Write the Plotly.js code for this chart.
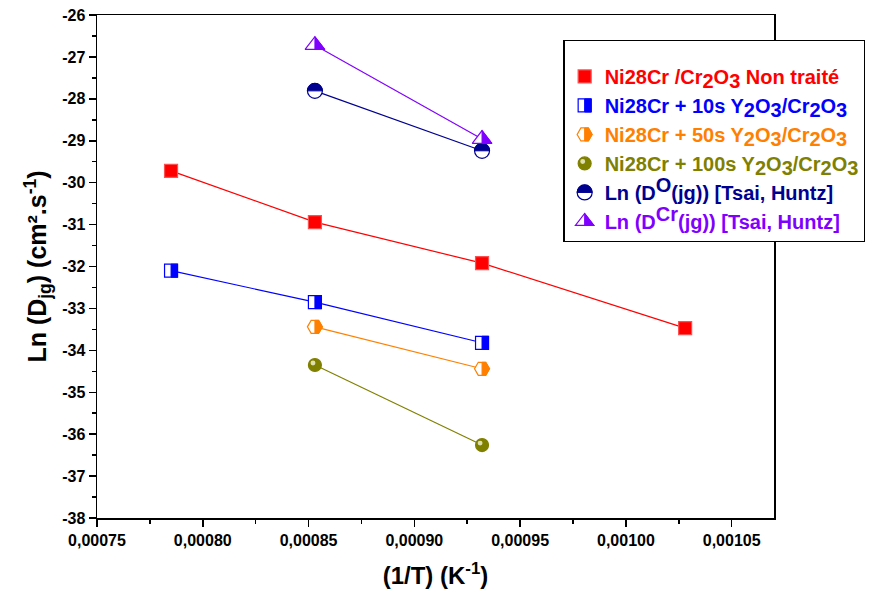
<!DOCTYPE html>
<html><head><meta charset="utf-8">
<script src="https://cdn.plot.ly/plotly-3.0.1.min.js"></script>
<style>body{margin:0;background:#fff}#chart{width:881px;height:592px}</style>
</head><body><div id="chart"></div>
<script>
// ---- data ----
const S = n => `<sub><span style="font-size:20px">${n}</span></sub>`;
const P = n => `<sup><span style="font-size:20px">${n}</span></sup>`;
const nameRed  = `<span style="color:#ff0000">Ni28Cr /Cr${S(2)}O${S(3)} Non traité</span>`;
const name10s  = `<span style="color:#0000ff">Ni28Cr + 10s Y${S(2)}O${S(3)}/Cr${S(2)}O${S(3)}</span>`;
const name50s  = `<span style="color:#ff8000">Ni28Cr + 50s Y${S(2)}O${S(3)}/Cr${S(2)}O${S(3)}</span>`;
const name100s = `<span style="color:#808000">Ni28Cr + 100s Y${S(2)}O${S(3)}/Cr${S(2)}O${S(3)}</span>`;
const nameDO   = `<span style="color:#000090">Ln (D${P('O')}(jg)) [Tsai, Huntz]</span>`;
const nameDCr  = `<span style="color:#8000ff">Ln (D${P('Cr')}(jg)) [Tsai, Huntz]</span>`;

const xRed  = [0.000785, 0.000853, 0.000932, 0.001028];
const yRed  = [-29.72, -30.94, -31.92, -33.47];
const x10s  = [0.000785, 0.000853, 0.000932];
const y10s  = [-32.10, -32.85, -33.82];
const x50s  = [0.000853, 0.000932];
const y50s  = [-33.44, -34.44];
const x100s = [0.000853, 0.000932];
const y100s = [-34.35, -36.26];
const xDO   = [0.000853, 0.000932];
const yDO   = [-27.81, -29.24];
const xDCr  = [0.000853, 0.000932];
const yDCr  = [-26.72, -28.96];

const yTickVals = [-38, -37, -36, -35, -34, -33, -32, -31, -30, -29, -28, -27, -26];
const yTickText = ['-38', '-37', '-36', '-35', '-34', '-33', '-32', '-31', '-30', '-29', '-28', '-27', '-26'];

// ---- styling ----
const FONT = 'Liberation Sans, Arial, Helvetica, sans-serif';
const series = [
  {name: nameRed,  x: xRed,  y: yRed,  color: '#ff0000', symbol: 'square',   size: 13, half: 'full'},
  {name: name10s,  x: x10s,  y: y10s,  color: '#0000ff', symbol: 'square',   size: 13, half: 'square'},
  {name: name50s,  x: x50s,  y: y50s,  color: '#ff8000', symbol: 'hexagon2', size: 15, half: 'hex'},
  {name: name100s, x: x100s, y: y100s, color: '#808000', symbol: 'circle',   size: 13, half: 'sphere'},
  {name: nameDO,   x: xDO,   y: yDO,   color: '#000090', symbol: 'circle',   size: 15, half: 'circleTop'},
  {name: nameDCr,  x: xDCr,  y: yDCr,  color: '#8000ff', symbol: 'triangle-up', size: 17, half: 'tri'}
];

const traces = [];
series.forEach(s => {
  traces.push({x: s.x, y: s.y, mode: 'lines', type: 'scatter', showlegend: false, hoverinfo: 'skip',
               line: {color: s.color, width: 1.2}});
});
series.forEach(s => {
  const full = s.half === 'full' || s.half === 'sphere';
  traces.push({x: s.x, y: s.y, mode: 'markers', type: 'scatter', name: s.name, meta: s.half,
               marker: {symbol: s.symbol, size: s.size,
                        color: full ? s.color : '#ffffff',
                        line: {color: s.half === 'full' ? '#ff5050' : s.color, width: 1.2}}});
});

const layout = {
  width: 881, height: 592,
  margin: {l: 97, r: 107, t: 15, b: 74},
  paper_bgcolor: '#ffffff', plot_bgcolor: '#ffffff',
  separators: ', ',
  showlegend: true,
  font: {family: FONT, color: '#000'},
  xaxis: {
    range: [0.00075, 0.00107], tickmode: 'linear', tick0: 0.00075, dtick: 0.00005, tickformat: '.5f',
    ticks: 'outside', ticklen: 7, tickwidth: 1.5, tickcolor: '#000',
    showline: true, linecolor: '#000', linewidth: 1.5, mirror: true, showgrid: false, zeroline: false,
    minor: {tick0: 0.000775, dtick: 0.00005, ticks: 'outside', ticklen: 4, tickwidth: 1.5, tickcolor: '#000', showgrid: false},
    tickfont: {family: FONT, size: 16, weight: 'bold', color: '#000'},
    title: {text: '(1/T) (K<sup>-1</sup>)', font: {family: FONT, size: 24, weight: 'bold', color: '#000'}, standoff: 19}
  },
  yaxis: {
    range: [-38, -26], tickmode: 'array', tickvals: yTickVals, ticktext: yTickText,
    ticks: 'outside', ticklen: 7, tickwidth: 1.5, tickcolor: '#000',
    showline: true, linecolor: '#000', linewidth: 1.5, mirror: true, showgrid: false, zeroline: false,
    minor: {tick0: -37.5, dtick: 1, ticks: 'outside', ticklen: 4, tickwidth: 1.5, tickcolor: '#000', showgrid: false},
    tickfont: {family: FONT, size: 16, weight: 'bold', color: '#000'},
    title: {text: 'Ln (D<sub>jg</sub>) (cm².s<sup>-1</sup>)', font: {family: FONT, size: 25, weight: 'bold', color: '#000'}, standoff: 8}
  },
  legend: {
    x: 0.689, y: 0.95, xanchor: 'left', yanchor: 'top',
    bgcolor: '#ffffff', bordercolor: '#000', borderwidth: 1.2,
    font: {family: FONT, size: 20, weight: 'bold', color: '#000'},
    title: {text: ' ', font: {size: 12}},
    itemwidth: 30, itemclick: false, itemdoubleclick: false
  }
};

const NS = 'http://www.w3.org/2000/svg';
const halfPath = {
  square: r => `M0,${-r}H${r}V${r}H0Z`,
  circleTop: r => `M${-r},0A${r},${r} 0 0 1 ${r},0Z`,
  hex: r => { const rh = r * Math.sqrt(3) / 2; return `M0,${-rh}H${r / 2}L${r},0L${r / 2},${rh}H0Z`; },
  tri: r => { const rt = r * 2 / Math.sqrt(3); return `M0,${-r}L${rt},${r / 2}H0Z`; }
};
function decorate(pt, half, color) {
  const bb = pt.getBBox();
  const tf = pt.getAttribute('transform');
  const p = document.createElementNS(NS, 'path');
  if (half === 'sphere') {
    const r = bb.width / 2, c = -0.3 * r, rr = 0.38 * r;
    p.setAttribute('d', `M${c - rr},${c}A${rr},${rr} 0 1 1 ${c + rr},${c}A${rr},${rr} 0 1 1 ${c - rr},${c}Z`);
    p.setAttribute('fill', '#eeeecc');
    p.setAttribute('opacity', '0.85');
  } else {
    const r = half === 'tri' ? bb.height / 1.5 : bb.width / 2;
    p.setAttribute('d', halfPath[half](r));
    p.setAttribute('fill', color);
    p.setAttribute('stroke', color);
    p.setAttribute('stroke-width', '1');
  }
  if (tf) p.setAttribute('transform', tf);
  pt.parentNode.appendChild(p);
}
function traceOf(el) {
  const d = el.__data__;
  if (!d) return null;
  const a = Array.isArray(d) ? d[0] : d;
  if (a && a.trace) return a.trace;
  if (Array.isArray(a) && a[0] && a[0].trace) return a[0].trace;
  return null;
}

const gd = document.getElementById('chart');
Plotly.newPlot(gd, traces, layout, {displayModeBar: false, staticPlot: true}).then(() => {
  gd.querySelectorAll('.scatterlayer .trace').forEach(g => {
    const tr = traceOf(g);
    if (!tr || !tr.meta || tr.meta === 'full') return;
    g.querySelectorAll('path.point').forEach(pt => decorate(pt, tr.meta, tr.marker.line.color));
  });
  gd.querySelectorAll('.legend .traces').forEach(g => {
    const tr = traceOf(g);
    if (!tr || !tr.meta || tr.meta === 'full') return;
    g.querySelectorAll('.legendpoints path.scatterpts').forEach(pt => decorate(pt, tr.meta, tr.marker.line.color));
  });
});
</script>
</body></html>
